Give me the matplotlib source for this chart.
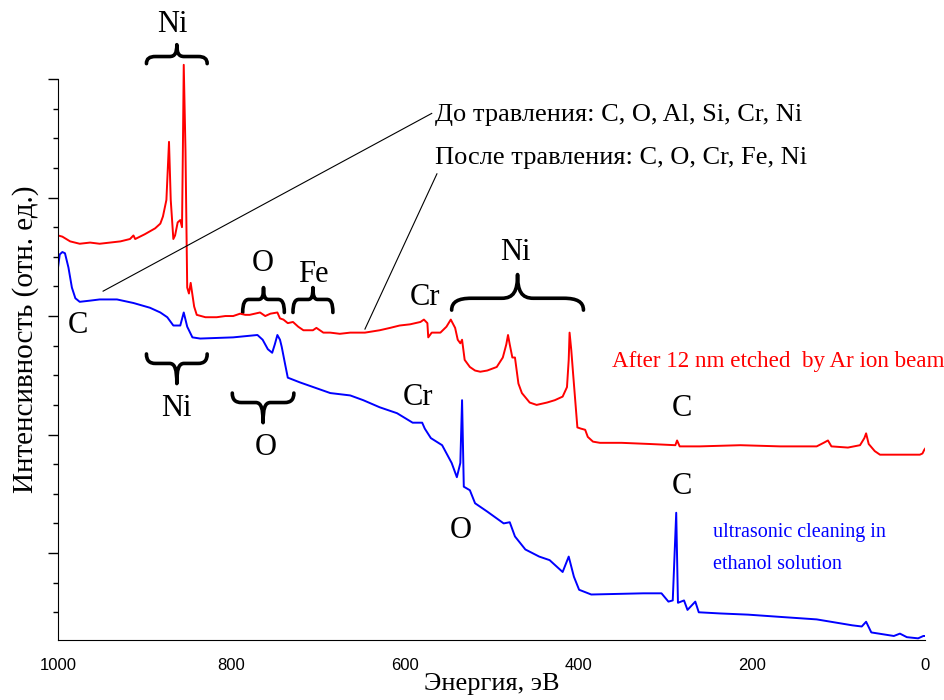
import matplotlib
matplotlib.use('Agg')
from matplotlib import pyplot as plt
from matplotlib.path import Path
from matplotlib.patches import PathPatch

plt.rcParams['font.family'] = ['Liberation Serif', 'DejaVu Serif']

# энергия (эВ) и интенсивность (отн. ед.) -- после травления Ar
red_e = [1000, 995, 986, 975, 963, 952, 940, 928, 917, 913, 911, 900, 888, 882, 879, 875, 872, 870,
         867, 865, 862, 859, 857, 856, 855, 853, 851, 849, 847, 843, 840, 830, 817, 807, 798, 790,
         784, 779, 767, 761, 755, 747, 744, 740, 735, 729, 723, 717, 712, 706, 702, 694, 686, 675,
         663, 646, 629, 617, 606, 594, 582, 578, 574, 573, 569, 559, 552, 547, 542, 539, 536, 534,
         531, 525, 519, 513, 505, 494, 487, 483, 481, 479, 476, 473, 469, 465, 456, 448, 436, 427,
         418, 413, 411, 410, 408, 406, 401, 397, 392, 389, 383, 375, 350, 317, 288, 286, 283, 260,
         213, 167, 125, 117, 112, 108, 89, 75, 70, 68, 65, 58, 52, 29, 6, 3, 1, 0]
red_i = [2.68, 2.67, 2.63, 2.61, 2.62, 2.61, 2.62, 2.63, 2.65, 2.68, 2.65, 2.69, 2.74, 2.78, 2.84, 2.98,
         3.47, 2.98, 2.65, 2.68, 2.79, 2.81, 2.75, 3.40, 4.12, 3.40, 2.24, 2.19, 2.28, 2.08, 2.01, 1.99,
         1.99, 2.00, 2.00, 2.02, 2.01, 2.01, 2.03, 2.00, 2.02, 2.03, 1.98, 1.97, 1.94, 1.95, 1.91, 1.88,
         1.88, 1.88, 1.90, 1.86, 1.86, 1.85, 1.86, 1.86, 1.88, 1.90, 1.92, 1.93, 1.95, 1.97, 1.94, 1.82,
         1.86, 1.86, 1.91, 1.97, 1.90, 1.80, 1.77, 1.80, 1.63, 1.57, 1.54, 1.53, 1.54, 1.57, 1.65, 1.76,
         1.84, 1.76, 1.65, 1.65, 1.43, 1.35, 1.27, 1.25, 1.27, 1.29, 1.32, 1.40, 1.63, 1.86, 1.71, 1.52,
         1.06, 1.05, 1.04, 0.98, 0.94, 0.93, 0.93, 0.92, 0.91, 0.95, 0.90, 0.90, 0.91, 0.90, 0.90, 0.93,
         0.95, 0.90, 0.89, 0.91, 0.97, 1.01, 0.92, 0.86, 0.83, 0.83, 0.83, 0.84, 0.87, 0.88]

# ультразвуковая очистка в этаноле
blue_e = [1000, 998, 995, 992, 988, 984, 980, 975, 963, 952, 932, 913, 894, 882, 874, 867, 859, 855,
          851, 845, 836, 798, 770, 764, 758, 753, 750, 747, 744, 742, 738, 735, 721, 686, 663, 648,
          629, 609, 591, 580, 577, 570, 557, 546, 540, 536, 534, 532, 525, 519, 505, 486, 479, 473,
          461, 445, 433, 418, 411, 405, 399, 385, 325, 304, 296, 291, 287, 285, 278, 274, 265, 261,
          236, 204, 165, 125, 84, 73, 68, 62, 36, 29, 21, 8, 2, 0]
blue_i = [2.41, 2.52, 2.54, 2.53, 2.41, 2.24, 2.15, 2.12, 2.13, 2.14, 2.14, 2.11, 2.07, 2.03, 1.99, 1.92,
          1.92, 2.03, 1.91, 1.82, 1.81, 1.82, 1.84, 1.80, 1.72, 1.69, 1.76, 1.84, 1.80, 1.74, 1.59, 1.48,
          1.44, 1.35, 1.33, 1.29, 1.23, 1.18, 1.10, 1.10, 1.05, 0.97, 0.91, 0.76, 0.64, 0.76, 1.29, 0.56,
          0.53, 0.42, 0.35, 0.25, 0.26, 0.14, 0.03, -0.03, -0.06, -0.16, -0.03, -0.20, -0.31, -0.35,
          -0.34, -0.34, -0.41, -0.40, 0.34, -0.42, -0.40, -0.48, -0.41, -0.50, -0.51, -0.52, -0.54,
          -0.56, -0.61, -0.62, -0.58, -0.67, -0.70, -0.68, -0.71, -0.72, -0.70, -0.70]

x_ticks = [1000, 800, 600, 400, 200, 0]

# подписи элементов: (текст, энергия, интенсивность)
element_labels = [('Ni', 868, 4.46), ('C', 977, 1.92), ('Ni', 864, 1.22), ('O', 760, 0.89),
                  ('O', 764, 2.44), ('Fe', 706, 2.35), ('Cr', 577, 2.16), ('Ni', 473, 2.54),
                  ('Cr', 585, 1.31), ('O', 535, 0.19), ('C', 280, 1.22), ('C', 280, 0.56)]

# скобки: (начало, конец, концы, перекладина, остриё)
braces = [(898, 828, 4.13, 4.19, 4.29), (898, 828, 1.68, 1.60, 1.43), (799, 728, 1.35, 1.27, 1.10),
          (787, 739, 2.03, 2.14, 2.24), (729, 683, 2.03, 2.14, 2.24), (546, 394, 2.05, 2.15, 2.35)]


def brace(ax, x0, x1, y_end, y_bar, y_tip):
    w = x1 - x0
    xm = (x0 + x1) / 2
    yc = y_end + 0.7 * (y_bar - y_end)
    yt = y_bar + 0.3 * (y_tip - y_bar)
    verts = [(x0, y_end),
             (x0, yc), (x0 + 0.05 * w, y_bar), (x0 + 0.15 * w, y_bar),
             (xm - 0.12 * w, y_bar),
             (xm - 0.03 * w, y_bar), (xm, yt), (xm, y_tip),
             (xm, yt), (xm + 0.03 * w, y_bar), (xm + 0.12 * w, y_bar),
             (x1 - 0.15 * w, y_bar),
             (x1 - 0.05 * w, y_bar), (x1, yc), (x1, y_end)]
    codes = [Path.MOVETO] + [Path.CURVE4] * 3 + [Path.LINETO] + [Path.CURVE4] * 6 + \
            [Path.LINETO] + [Path.CURVE4] * 3
    ax.add_patch(PathPatch(Path(verts, codes), fill=False, lw=2.6, color='black',
                           capstyle='round', joinstyle='round'))


fig = plt.figure(figsize=(9.45, 7), dpi=100)
ax = fig.add_axes([0.0614, 0.0857, 0.9175, 0.9143])

ax.plot(red_e, red_i, color='#ff0000', lw=1.4)
ax.plot(blue_e, blue_i, color='#0000ff', lw=1.4)

ax.set_xlim(1000, 0)
ax.set_ylim(-0.734, 4.667)
ax.spines['top'].set_visible(False)
ax.spines['right'].set_visible(False)
ax.spines['left'].set_bounds(-0.734, 4.0)

ax.set_xticks(x_ticks)
ax.set_xticklabels([str(t) for t in x_ticks], family=['Liberation Sans'], fontsize=12)
ax.tick_params(axis='x', length=0, pad=13)
ax.set_yticks([0, 1, 2, 3, 4])
ax.set_yticks([-0.5, -0.25, 0.25, 0.5, 0.75, 1.25, 1.5, 1.75, 2.25, 2.5, 2.75,
               3.25, 3.5, 3.75], minor=True)
ax.set_yticklabels([])
ax.tick_params(axis='y', which='major', length=7, width=1)
ax.tick_params(axis='y', which='minor', length=3.5, width=1)

ax.set_xlabel('Энергия, эВ', fontsize=19, labelpad=0)
ax.set_ylabel('Интенсивность (отн. ед.)', fontsize=21, labelpad=6)
ax.yaxis.set_label_coords(-0.022, 0.47)

for b in braces:
    brace(ax, *b)

for txt, e, i in element_labels:
    ax.text(e, i, txt, fontsize=22, ha='center', va='center')

ax.plot([948, 569], [2.21, 3.71], color='black', lw=0.8)
ax.plot([646, 563], [1.89, 3.20], color='black', lw=0.8)
ax.text(565, 3.70, 'До травления: C, O, Al, Si, Cr, Ni', fontsize=19, ha='left', va='center')
ax.text(565, 3.33, 'После травления: C, O, Cr, Fe, Ni', fontsize=19, ha='left', va='center')

ax.text(361, 1.62, 'After 12 nm etched  by Ar ion beam', fontsize=16.6, color='#ff0000',
        ha='left', va='center', clip_on=False)
ax.text(245, 0.17, 'ultrasonic cleaning in', fontsize=14.5, color='#0000ff', ha='left', va='center')
ax.text(245, -0.10, 'ethanol solution', fontsize=14.5, color='#0000ff', ha='left', va='center')

plt.savefig('out.png', dpi=100)
